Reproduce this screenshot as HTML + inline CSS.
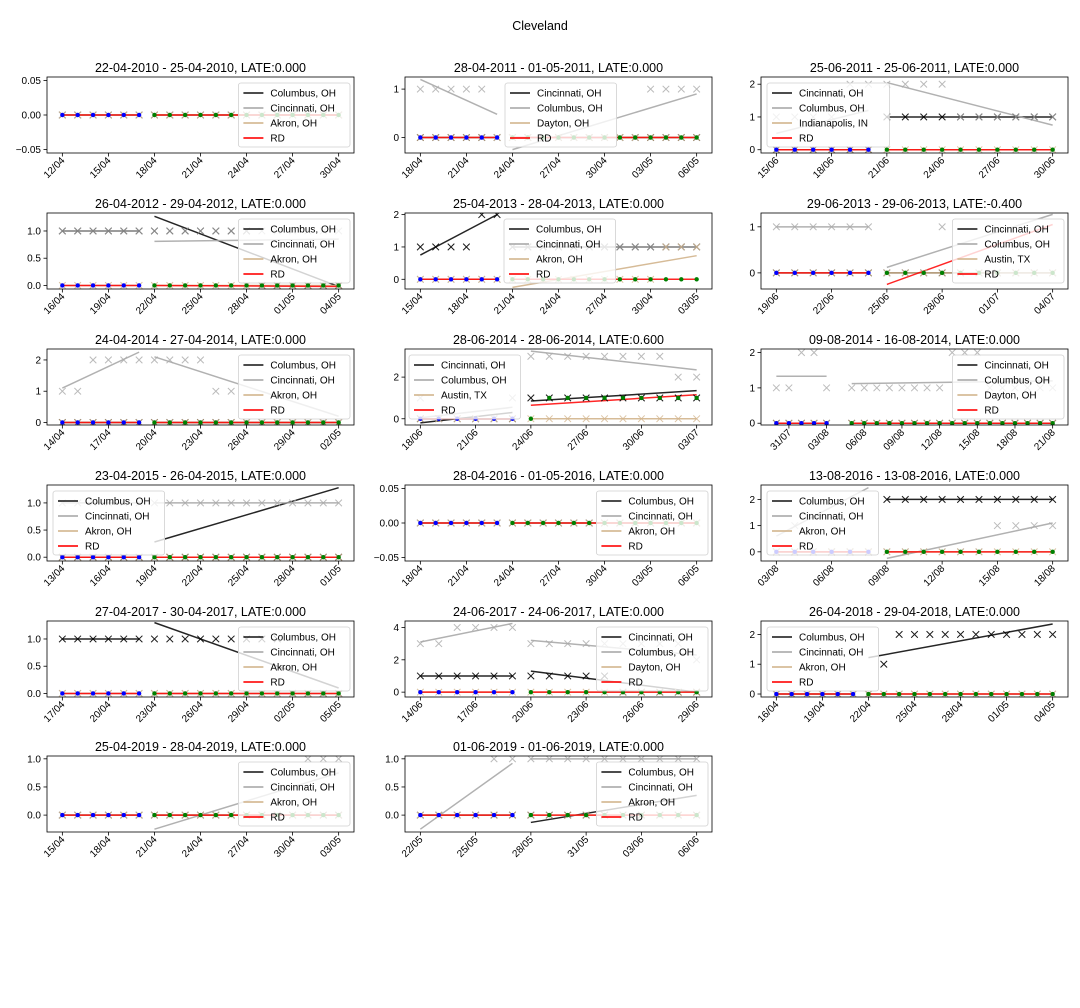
<!DOCTYPE html>
<html><head><meta charset="utf-8"><style>
html,body{margin:0;padding:0;background:#fff;}
svg{display:block;font-family:"Liberation Sans","DejaVu Sans",sans-serif;}
</style></head><body>
<svg id="fig" width="1080" height="1008" viewBox="0 0 1080 1008" xmlns="http://www.w3.org/2000/svg">
<rect width="1080" height="1008" fill="#fff"/>
<text x="540" y="30" text-anchor="middle" font-size="12.5">Cleveland</text>
</svg>
<script>
const panelTitles=["22-04-2010 - 25-04-2010, LATE:0.000","28-04-2011 - 01-05-2011, LATE:0.000","25-06-2011 - 25-06-2011, LATE:0.000","26-04-2012 - 29-04-2012, LATE:0.000","25-04-2013 - 28-04-2013, LATE:0.000","29-06-2013 - 29-06-2013, LATE:-0.400","24-04-2014 - 27-04-2014, LATE:0.000","28-06-2014 - 28-06-2014, LATE:0.600","09-08-2014 - 16-08-2014, LATE:0.000","23-04-2015 - 26-04-2015, LATE:0.000","28-04-2016 - 01-05-2016, LATE:0.000","13-08-2016 - 13-08-2016, LATE:0.000","27-04-2017 - 30-04-2017, LATE:0.000","24-06-2017 - 24-06-2017, LATE:0.000","26-04-2018 - 29-04-2018, LATE:0.000","25-04-2019 - 28-04-2019, LATE:0.000","01-06-2019 - 01-06-2019, LATE:0.000"];
const tickLabels=[
["12/04","15/04","18/04","21/04","24/04","27/04","30/04"],
["18/04","21/04","24/04","27/04","30/04","03/05","06/05"],
["15/06","18/06","21/06","24/06","27/06","30/06"],
["16/04","19/04","22/04","25/04","28/04","01/05","04/05"],
["15/04","18/04","21/04","24/04","27/04","30/04","03/05"],
["19/06","22/06","25/06","28/06","01/07","04/07"],
["14/04","17/04","20/04","23/04","26/04","29/04","02/05"],
["18/06","21/06","24/06","27/06","30/06","03/07"],
["31/07","03/08","06/08","09/08","12/08","15/08","18/08","21/08"],
["13/04","16/04","19/04","22/04","25/04","28/04","01/05"],
["18/04","21/04","24/04","27/04","30/04","03/05","06/05"],
["03/08","06/08","09/08","12/08","15/08","18/08"],
["17/04","20/04","23/04","26/04","29/04","02/05","05/05"],
["14/06","17/06","20/06","23/06","26/06","29/06"],
["16/04","19/04","22/04","25/04","28/04","01/05","04/05"],
["15/04","18/04","21/04","24/04","27/04","30/04","03/05"],
["22/05","25/05","28/05","31/05","03/06","06/06"]];
const tickStart=[0,0,0,0,0,0,0,0,1,0,0,0,0,0,0,0,0];
const preEnd=[5,5,5,5,5,5,5,5,4,5,5,5,5,5,5,5,5];
const postStart=[6,6,6,6,6,6,6,6,6,6,6,6,6,6,6,6,6];
const legendNames=[
["Columbus, OH","Cincinnati, OH","Akron, OH"],["Cincinnati, OH","Columbus, OH","Dayton, OH"],["Cincinnati, OH","Columbus, OH","Indianapolis, IN"],
["Columbus, OH","Cincinnati, OH","Akron, OH"],["Columbus, OH","Cincinnati, OH","Akron, OH"],["Cincinnati, OH","Columbus, OH","Austin, TX"],
["Columbus, OH","Cincinnati, OH","Akron, OH"],["Cincinnati, OH","Columbus, OH","Austin, TX"],["Cincinnati, OH","Columbus, OH","Dayton, OH"],
["Columbus, OH","Cincinnati, OH","Akron, OH"],["Columbus, OH","Cincinnati, OH","Akron, OH"],["Columbus, OH","Cincinnati, OH","Akron, OH"],
["Columbus, OH","Cincinnati, OH","Akron, OH"],["Cincinnati, OH","Columbus, OH","Dayton, OH"],["Columbus, OH","Cincinnati, OH","Akron, OH"],
["Columbus, OH","Cincinnati, OH","Akron, OH"],["Columbus, OH","Cincinnati, OH","Akron, OH"]];
const legendX=[-1,100,6,-1,99,-1,-1,4,-1,6,-1,6,-1,-1,6,-1,-1];
const yRanges=[[-0.055,0.055],[-0.32,1.25],[-0.1,2.22],[-0.065,1.33],[-0.3,2.05],[-0.35,1.3],[-0.08,2.35],[-0.3,3.35],[-0.05,2.1],[-0.07,1.33],[-0.055,0.055],[-0.35,2.55],[-0.065,1.33],[-0.3,4.4],[-0.1,2.45],[-0.3,1.05],[-0.3,1.05]];
const yTicks=[[-0.05,0,0.05],[0,1],[0,1,2],[0,0.5,1],[0,1,2],[0,1],[0,1,2],[0,2],[0,1,2],[0,0.5,1],[-0.05,0,0.05],[0,1,2],[0,0.5,1],[0,2,4],[0,1,2],[0,0.5,1],[0,0.5,1]];
const yDecimals=[2,0,0,1,0,0,0,0,0,1,2,0,1,0,0,1,1];
const s1Values=[
[0,0,0,0,0,0,0,0,0,0,0,0,0,0,0,0,0,0,0],
[0,0,0,0,0,0,0,0,0,0,0,0,0,0,0,0,0,0,0],
[0,0,0,0,0,0,1,1,1,1,1,1,1,1,1,1],
[1,1,1,1,1,1,1,1,1,1,1,1,1,0,0,0,0,0,0],
[1,1,1,1,2,2,1,1,1,1,1,1,1,1,1,1,1,1,1],
[0,0,0,0,0,0,0,0,0,0,0,0,0,0,0,0],
[0,0,0,0,0,0,0,0,0,0,0,0,0,0,0,0,0,0,0],
[0,0,0,0,0,0,1,1,1,1,1,1,1,1,1,1],
[0,0,0,0,0,null,0,0,0,0,0,0,0,0,0,0,0,0,0,0,0,0,0],
[0,0,0,0,0,0,0,0,0,0,0,0,0,0,0,0,0,0,0],
[0,0,0,0,0,0,0,0,0,0,0,0,0,0,0,0,0,0,0],
[0,0,0,0,0,0,2,2,2,2,2,2,2,2,2,2],
[1,1,1,1,1,1,1,1,1,1,1,1,1,1,1,0,0,0,0],
[1,1,1,1,1,1,1,1,1,1,1,0,0,0,0,0],
[0,0,0,0,0,0,0,1,2,2,2,2,2,2,2,2,2,2,2],
[0,0,0,0,0,0,0,0,0,0,0,0,0,0,0,0,0,0,0],
[0,0,0,0,0,0,0,0,0,0,0,0,0,0,0,0]];
const s2Values=[
[0,0,0,0,0,0,0,0,0,0,0,0,0,0,0,0,0,0,0],
[1,1,1,1,1,0,0,0,0,0,0,0,0,0,0,1,1,1,1],
[1,1,1,1,2,2,2,2,2,2,1,1,1,1,1,1],
[1,1,1,1,1,1,1,1,1,1,1,1,1,1,1,1,1,1,1],
[0,0,0,0,0,0,1,1,1,1,1,1,1,1,1,1,1,1,1],
[1,1,1,1,1,1,0,0,0,1,0,0,0,0,0,0],
[1,1,2,2,2,2,2,2,2,2,1,1,0,0,0,0,0,0,0],
[1,0,0,0,0,1,3,3,3,3,3,3,3,3,2,2],
[1,1,2,2,1,null,1,1,1,1,1,1,1,1,2,2,2,1,1,1,1,1,1],
[1,1,1,1,1,1,1,1,1,1,1,1,1,1,1,1,1,1,1],
[0,0,0,0,0,0,0,0,0,0,0,0,0,0,0,0,0,0,0],
[0,1,0,0,0,0,0,0,0,0,0,0,1,1,1,1],
[0,0,0,0,0,0,0,0,0,0,0,0,0,0,0,0,0,0,0],
[3,3,4,4,4,4,3,3,3,3,3,3,3,3,3,2],
[0,0,0,0,0,0,0,0,0,0,0,0,0,0,0,0,0,0,0],
[0,0,0,0,0,0,0,0,0,0,0,0,0,0,0,0,1,1,1],
[0,0,0,0,1,1,1,1,1,1,1,1,1,1,1,1]];
const s3Values=[
[0,0,0,0,0,0,0,0,0,0,0,0,0,0,0,0,0,0,0],
[0,0,0,0,0,0,0,0,0,0,0,0,0,0,0,0,0,0,0],
[0,0,0,0,0,0,0,0,0,0,0,0,0,0,0,0],
[0,0,0,0,0,0,0,0,0,0,0,0,0,0,0,0,0,0,0],
[0,0,0,0,0,0,0,0,0,0,0,0,0,0,0,0,1,1,1],
[0,0,0,0,0,0,0,0,0,0,0,0,0,0,0,0],
[0,0,0,0,0,0,0,0,0,0,0,0,0,0,0,0,0,0,0],
[0,0,0,0,0,0,0,0,0,0,0,0,0,0,0,0],
[0,0,0,0,0,null,0,0,0,0,0,0,0,0,0,0,0,0,0,0,0,0,0],
[0,0,0,0,0,0,0,0,0,0,0,0,0,0,0,0,0,0,0],
[0,0,0,0,0,0,0,0,0,0,0,0,0,0,0,0,0,0,0],
[0,0,0,0,0,0,0,0,0,0,0,0,0,0,0,0],
[0,0,0,0,0,0,0,0,0,0,0,0,0,0,0,0,0,0,0],
[0,0,0,0,0,0,0,0,0,0,0,0,0,0,0,0],
[0,0,0,0,0,0,0,0,0,0,0,0,0,0,0,0,0,0,0],
[0,0,0,0,0,0,0,0,0,0,0,0,0,0,0,0,0,0,0],
[0,0,0,0,0,0,0,0,0,0,0,0,0,0,0,0]];
const rdValues=[
[0,0,0,0,0,0,0,0,0,0,0,0,0,0,0,0,0,0,0],
[0,0,0,0,0,0,0,0,0,0,0,0,0,0,0,0,0,0,0],
[0,0,0,0,0,0,0,0,0,0,0,0,0,0,0,0],
[0,0,0,0,0,0,0,0,0,0,0,0,0,0,0,0,0,0,0],
[0,0,0,0,0,0,0,0,0,0,0,0,0,0,0,0,0,0,0],
[0,0,0,0,0,0,0,0,0,0,0,0,0,0,0,0],
[0,0,0,0,0,0,0,0,0,0,0,0,0,0,0,0,0,0,0],
[0,0,0,0,0,0,0,1,1,1,1,1,1,1,1,1],
[0,0,0,0,0,null,0,0,0,0,0,0,0,0,0,0,0,0,0,0,0,0,0],
[0,0,0,0,0,0,0,0,0,0,0,0,0,0,0,0,0,0,0],
[0,0,0,0,0,0,0,0,0,0,0,0,0,0,0,0,0,0,0],
[0,0,0,0,0,0,0,0,0,0,0,0,0,0,0,0],
[0,0,0,0,0,0,0,0,0,0,0,0,0,0,0,0,0,0,0],
[0,0,0,0,0,0,0,0,0,0,0,0,0,0,0,0],
[0,0,0,0,0,0,0,0,0,0,0,0,0,0,0,0,0,0,0],
[0,0,0,0,0,0,0,0,0,0,0,0,0,0,0,0,0,0,0],
[0,0,0,0,0,0,0,0,0,0,0,0,0,0,0,0]];
const s1Lines=[[[0,0],[0,0]],[[0,0],[0,0]],[[0,0],[1,1]],[[1,1],[1.27,-0.02]],[[0.75,2.0],[1,1]],[[0,0],[0,0]],[[0,0],[0,0]],[[-0.2,0.3],[0.85,1.35]],[[0,0],[0,0]],[[0,0],[0.28,1.28]],[[0,0],[0,0]],[[0,0],[2,2]],[[1,1],[1.3,0.1]],[[1,1],[1.3,0]],[[0,0],[1.22,2.35]],[[0,0],[0,0]],[[0,0],[-0.13,0.35]]];
const s2Lines=[[[0,0],[0,0]],[[1.2,0.48],[-0.25,0.9]],[[0.5,1.2],[2.05,0.75]],[[1,1],[0.81,0.85]],[[0,0],[1,1]],[[1,1],[0.12,1.27]],[[1.1,2.25],[2.1,0.2]],[[0.05,0.55],[3.25,2.35]],[[1.33,1.33],[1.12,1.2]],[[1,1],[1,1]],[[0,0],[0,0]],[[0.6,2.45],[-0.25,1.1]],[[0,0],[0,0]],[[3.1,4.25],[3.2,2.3]],[[0,0],[0,0]],[[0,0],[-0.25,0.75]],[[-0.25,0.92],[1,1]]];
const s3Lines=[[[0,0],[0,0]],[[0,0],[0,0]],[[0,0],[0,0]],[[0,0],[0,0]],[[0,0],[-0.25,0.73]],[[0,0],[0,0]],[[0,0],[0,0]],[[0,0],[0,0]],[[0,0],[0,0]],[[0,0],[0,0]],[[0,0],[0,0]],[[0,0],[0,0]],[[0,0],[0,0]],[[0,0],[0,0]],[[0,0],[0,0]],[[0,0],[0,0]],[[0,0],[0,0]]];
const rdLines=[[[0,0],[0,0]],[[0,0],[0,0]],[[0,0],[0,0]],[[0,0],[0,-0.02]],[[0,0],[0,0]],[[0,0],[-0.25,1.05]],[[0,0],[0,0]],[[0,0],[0.65,1.15]],[[0,0],[0,0]],[[0,0],[0,0]],[[0,0],[0,0]],[[0,0],[0,0]],[[0,0],[0,0]],[[0,0],[0,0]],[[0,0],[0,0]],[[0,0],[0,0]],[[0,0],[0,0]]];

const NS="http://www.w3.org/2000/svg";
const fig=document.getElementById('fig');
const colX=[47,405,761], AW=307, rowY=[77,213,349,485,621,756], AH=76;
const colors=["#000000","#a9a9a9","#d2b48c","#ff0000"];
function mk(tag,attrs,parent){const e=document.createElementNS(NS,tag);for(const k in attrs)e.setAttribute(k,attrs[k]);parent.appendChild(e);return e;}

panelTitles.forEach((title,p)=>{
  const ax0=colX[p%3], ay0=rowY[Math.floor(p/3)];
  const n=s1Values[p].length;
  const xs=i=>ax0+AW*(0.05+0.9*i/(n-1));
  const [ymin,ymax]=yRanges[p];
  const ys=v=>ay0+AH*(1-(v-ymin)/(ymax-ymin));
  const g=mk('g',{},fig);
  
  
  const t=mk('text',{x:ax0+AW/2,y:ay0-5,'text-anchor':'middle','font-size':'12.5'},g);
  t.textContent=title;
  
  
  const clipId='c'+p;
  const cp=mk('clipPath',{id:clipId},g); mk('rect',{x:ax0,y:ay0,width:AW,height:AH},cp);
  const plot=mk('g',{'clip-path':'url(#'+clipId+')'},g);
  
  
  const allLines=[s1Lines[p],s2Lines[p],s3Lines[p],rdLines[p]];
  const op=[0.85,0.9,0.9,0.85];
  allLines.forEach((ln,si)=>{
    const segs=[[0,preEnd[p]],[postStart[p],n-1]];
    segs.forEach((sg,k)=>{
      const l=mk('line',{x1:xs(sg[0]),y1:ys(ln[k][0]),x2:xs(sg[1]),y2:ys(ln[k][1]),stroke:colors[si],'stroke-width':1.5,opacity:op[si]},plot);
      
      
    });
  });
  [s1Values[p],s2Values[p],s3Values[p]].forEach((arr,si)=>{
    arr.forEach((v,i)=>{
      if(v===null)return;
      const cx=xs(i),cy=ys(v),r=3.3;
      const m=mk('path',{d:`M${cx-r},${cy-r}L${cx+r},${cy+r}M${cx-r},${cy+r}L${cx+r},${cy-r}`,stroke:colors[si],'stroke-width':1,opacity:si==0?0.9:0.8,fill:'none'},plot);
      
      
    });
  });
  rdValues[p].forEach((v,i)=>{
    if(v===null)return;
    const d=mk('circle',{cx:xs(i),cy:ys(v),r:2.2,fill:i<=preEnd[p]?'#0000ff':'#008000'},plot);
    
    
  });
  const fr=mk('rect',{x:ax0,y:ay0,width:AW,height:AH,fill:'none',stroke:'#000','stroke-width':0.8},g);
  
  
  yTicks[p].forEach(v=>{
    const y=ys(v);
    mk('line',{x1:ax0-3.5,y1:y,x2:ax0,y2:y,stroke:'#000','stroke-width':0.8},g);
    const tl=mk('text',{x:ax0-6,y:y+3.5,'text-anchor':'end','font-size':'10'},g);
    tl.textContent=(v<0?'\u2212':'')+Math.abs(v).toFixed(yDecimals[p]);
    
    
  });
  tickLabels[p].forEach((lab,k)=>{
    const x=xs(tickStart[p]+3*k);
    mk('line',{x1:x,y1:ay0+AH,x2:x,y2:ay0+AH+3.5,stroke:'#000','stroke-width':0.8},g);
    const tl=mk('text',{x:x+3,y:ay0+AH+8,'text-anchor':'end','font-size':'10',transform:`rotate(-45 ${x+3} ${ay0+AH+8})`},g);
    tl.textContent=lab;
    
    
  });
  const names=legendNames[p].concat(['RD']);
  const maxLen=Math.max(...names.map(s=>s.length));
  const lwid=36+maxLen*5.4;
  const lx=legendX[p]<0?ax0+AW-4-lwid:ax0+legendX[p];
  const ly=ay0+6;
  const lg=mk('g',{},g);
  
  
  mk('rect',{x:lx,y:ly,width:lwid,height:64,rx:2.5,fill:'#fff','fill-opacity':0.8,stroke:'#d0d0d0','stroke-width':0.8},lg);
  names.forEach((nm,k)=>{
    const yy=ly+10+k*15;
    mk('line',{x1:lx+5,y1:yy,x2:lx+25,y2:yy,stroke:colors[k],'stroke-width':1.8,opacity:k==0?0.8:0.9},lg);
    const tx=mk('text',{x:lx+32,y:yy+3.6,'font-size':'10'},lg);
    tx.textContent=nm;
    
    
  });
});
</script>
</body></html>
